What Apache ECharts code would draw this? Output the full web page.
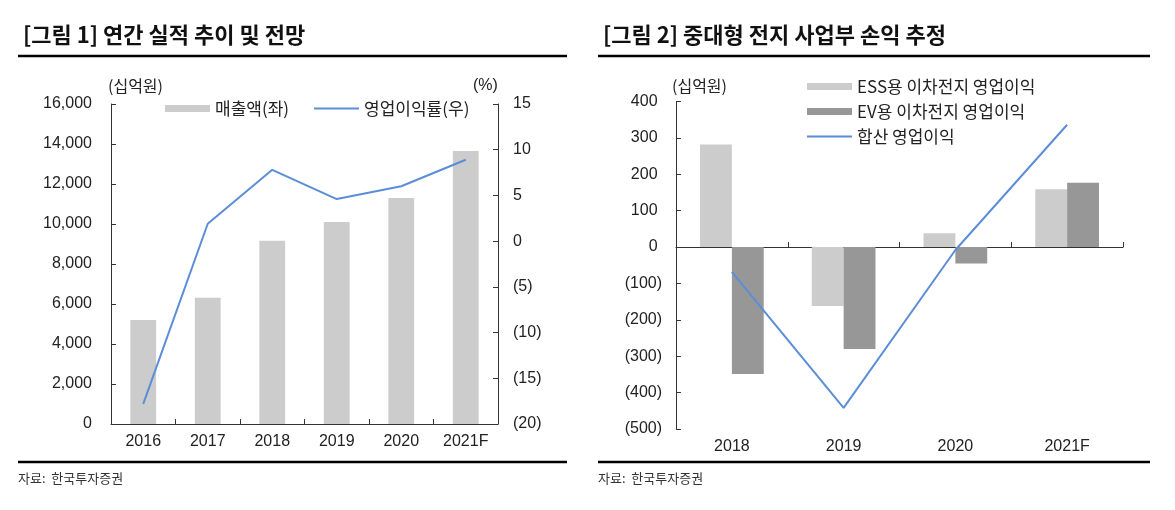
<!DOCTYPE html>
<html>
<head>
<meta charset="utf-8">
<script src="https://cdn.jsdelivr.net/npm/echarts@6/dist/echarts.min.js"></script>
<style>
html,body{margin:0;padding:0;background:#fff;}
#c{width:1175px;height:510px;}
</style>
</head>
<body>
<div id="c"></div>
<script>
// ---- Figure 1 data ----
const years1 = ['2016', '2017', '2018', '2019', '2020', '2021F'];
const revenue = [5201, 6317, 9158, 10097, 11295, 13650];     // 매출액(좌), 십억원
const opMargin = [-17.8, 1.9, 7.8, 4.6, 6.0, 8.9];            // 영업이익률(우), %
const leftTicks1 = { min: 0, max: 16000, interval: 2000 };
const rightTicks1 = { min: -20, max: 15, interval: 5 };

// ---- Figure 2 data ----
const years2 = ['2018', '2019', '2020', '2021F'];
const essOp = [282, -162, 38, 159];      // ESS용 이차전지 영업이익
const evOp = [-349, -280, -45, 177];     // EV용 이차전지 영업이익
const totalOp = [-68, -442, -8, 336];    // 합산 영업이익
const ticks2 = { min: -500, max: 400, interval: 100 };

const NUM = '"Liberation Sans", Arial, sans-serif';
const KR = '"Noto Sans CJK KR", sans-serif';
const TXT = '#222';
const AX = '#333';
const BLUE = '#5b8ed6';
const LINE_ICON = 'path://M0,0L45,0L45,2L0,2Z';

function commas(v) { return Math.abs(v).toString().replace(/\B(?=(\d{3})+(?!\d))/g, ','); }
function parenLeft(v) { return v < 0 ? '(' + commas(v) + ')' : commas(v); }
function parenRight(v) { return v < 0 ? '(' + commas(v) + ')' : commas(v) + ' '; }

const chart = echarts.init(document.getElementById('c'), null, { renderer: 'canvas' });

const axisLabelBase = { color: TXT, fontFamily: NUM, fontSize: 16 };

chart.setOption({
  animation: false,
  backgroundColor: '#fff',
  grid: [
    { left: 111, top: 104, width: 387, height: 320, containLabel: false },
    { left: 676, top: 101.5, width: 447, height: 327.5, containLabel: false }
  ],
  legend: [
    {
      data: [{ name: '매출액(좌)', icon: 'rect' }, { name: '영업이익률(우)', icon: LINE_ICON }],
      left: 160, top: 95, orient: 'horizontal',
      itemWidth: 45, itemHeight: 7, itemGap: 25,
      textStyle: { color: TXT, fontFamily: KR, fontSize: 17 }
    },
    {
      data: [{ name: 'ESS용 이차전지 영업이익', icon: 'rect' },
             { name: 'EV용 이차전지 영업이익', icon: 'rect' },
             { name: '합산 영업이익', icon: LINE_ICON }],
      left: 802, top: 73, orient: 'vertical',
      itemWidth: 45, itemHeight: 7, itemGap: 8,
      textStyle: { color: TXT, fontFamily: KR, fontSize: 17 }
    }
  ],
  xAxis: [
    {
      gridIndex: 0, type: 'category', data: years1,
      axisLine: { show: true, lineStyle: { color: AX, width: 1 } },
      axisTick: { show: true, inside: true, length: 5, lineStyle: { color: AX } },
      axisLabel: Object.assign({ margin: 10 }, axisLabelBase),
      splitLine: { show: false }
    },
    {
      gridIndex: 1, type: 'category', data: years2,
      axisLine: { show: true, onZero: true, lineStyle: { color: AX, width: 1 } },
      axisTick: { show: true, inside: true, length: 5, lineStyle: { color: AX } },
      axisLabel: { show: false },
      splitLine: { show: false }
    },
    {
      gridIndex: 1, type: 'category', data: years2, position: 'bottom',
      axisLine: { show: false, onZero: false },
      axisTick: { show: false },
      axisLabel: Object.assign({ margin: 10 }, axisLabelBase),
      splitLine: { show: false }
    }
  ],
  yAxis: [
    {
      gridIndex: 0, type: 'value', position: 'left',
      min: leftTicks1.min, max: leftTicks1.max, interval: leftTicks1.interval,
      axisLine: { show: true, lineStyle: { color: AX, width: 1 } },
      axisTick: { show: true, inside: true, length: 5, lineStyle: { color: AX } },
      axisLabel: Object.assign({ margin: 19, formatter: parenLeft }, axisLabelBase),
      splitLine: { show: false }
    },
    {
      gridIndex: 0, type: 'value', position: 'right',
      min: rightTicks1.min, max: rightTicks1.max, interval: rightTicks1.interval,
      axisLine: { show: true, lineStyle: { color: AX, width: 1 } },
      axisTick: { show: true, inside: true, length: 5, lineStyle: { color: AX } },
      axisLabel: Object.assign({ margin: 15, formatter: parenLeft }, axisLabelBase),
      splitLine: { show: false }
    },
    {
      gridIndex: 1, type: 'value', position: 'left',
      min: ticks2.min, max: ticks2.max, interval: ticks2.interval,
      axisLine: { show: true, lineStyle: { color: AX, width: 1 } },
      axisTick: { show: true, inside: true, length: 5, lineStyle: { color: AX } },
      axisLabel: Object.assign({ margin: 14, formatter: parenRight }, axisLabelBase),
      splitLine: { show: false }
    }
  ],
  series: [
    {
      name: '매출액(좌)', type: 'bar', xAxisIndex: 0, yAxisIndex: 0,
      data: revenue, barCategoryGap: '60%',
      itemStyle: { color: '#cccccc' }
    },
    {
      name: '영업이익률(우)', type: 'line', xAxisIndex: 0, yAxisIndex: 1,
      data: opMargin, symbol: 'none',
      lineStyle: { color: BLUE, width: 2 }, itemStyle: { color: BLUE }
    },
    {
      name: 'ESS용 이차전지 영업이익', type: 'bar', xAxisIndex: 1, yAxisIndex: 2,
      data: essOp, barGap: '0%', barCategoryGap: '43%',
      itemStyle: { color: '#cccccc' }
    },
    {
      name: 'EV용 이차전지 영업이익', type: 'bar', xAxisIndex: 1, yAxisIndex: 2,
      data: evOp, barGap: '0%', barCategoryGap: '43%',
      itemStyle: { color: '#979797' }
    },
    {
      name: '합산 영업이익', type: 'line', xAxisIndex: 1, yAxisIndex: 2,
      data: totalOp, symbol: 'none', z: 5,
      lineStyle: { color: BLUE, width: 2 }, itemStyle: { color: BLUE }
    }
  ],
  graphic: [
    { type: 'text', x: 23, y: 35, style: { text: '[그림 1] 연간 실적 추이 및 전망', font: 'bold 22px "Noto Sans CJK KR"', fill: '#111', verticalAlign: 'middle', align: 'left' } },
    { type: 'text', x: 603, y: 35, style: { text: '[그림 2] 중대형 전지 사업부 손익 추정', font: 'bold 22px "Noto Sans CJK KR"', fill: '#111', verticalAlign: 'middle', align: 'left' } },
    { type: 'line', shape: { x1: 18, y1: 56, x2: 567, y2: 56 }, style: { stroke: '#000', lineWidth: 2.5 } },
    { type: 'line', shape: { x1: 598, y1: 56, x2: 1150, y2: 56 }, style: { stroke: '#000', lineWidth: 2.5 } },
    { type: 'line', shape: { x1: 18, y1: 462, x2: 567, y2: 462 }, style: { stroke: '#000', lineWidth: 2.5 } },
    { type: 'line', shape: { x1: 598, y1: 462, x2: 1150, y2: 462 }, style: { stroke: '#000', lineWidth: 2.5 } },
    { type: 'text', x: 18, y: 478, style: { text: '자료:  한국투자증권', font: '13px "Noto Sans CJK KR"', fill: '#333', verticalAlign: 'middle', align: 'left' } },
    { type: 'text', x: 598, y: 478, style: { text: '자료:  한국투자증권', font: '13px "Noto Sans CJK KR"', fill: '#333', verticalAlign: 'middle', align: 'left' } },
    { type: 'text', x: 108, y: 86, style: { text: '(십억원)', font: '16px "Noto Sans CJK KR"', fill: TXT, verticalAlign: 'middle', align: 'left' } },
    { type: 'text', x: 473, y: 86, style: { text: '(%)', font: '16px "Liberation Sans"', fill: TXT, verticalAlign: 'middle', align: 'left' } },
    { type: 'text', x: 672, y: 86, style: { text: '(십억원)', font: '16px "Noto Sans CJK KR"', fill: TXT, verticalAlign: 'middle', align: 'left' } }
  ]
});
</script>
</body>
</html>
